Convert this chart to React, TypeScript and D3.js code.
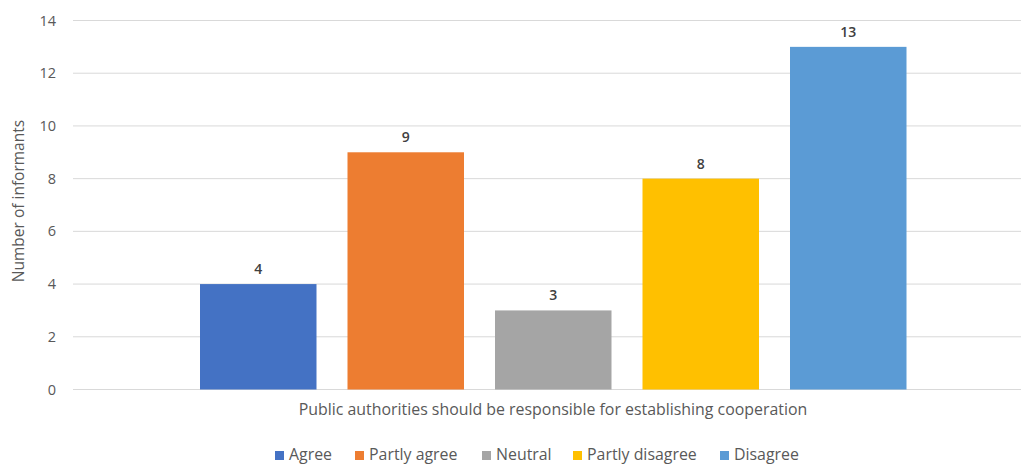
import React from "react";
import * as d3 from "d3";

const categories = ["Agree", "Partly agree", "Neutral", "Partly disagree", "Disagree"];
const values = [4, 9, 3, 8, 13];
const colors = ["#4472C4", "#ED7D31", "#A5A5A5", "#FFC000", "#5B9BD5"];
const yTicks = [0, 2, 4, 6, 8, 10, 12, 14];
const groupLabel = "Public authorities should be responsible for establishing cooperation";
const yTitle = "Number of informants";

const W = 1021;
const H = 465;
const FONT = "'Open Sans', sans-serif";

export default function App() {
  const plotLeft = 73;
  const plotRight = 1034;
  const y = d3.scaleLinear().domain([0, 14]).range([389.5, 20.5]);
  const step = 147.5;
  const bw = 116.5;
  const xs = d3.scaleLinear().domain([0, categories.length - 1]).range([200, 200 + step * 4]);

  const legendX = [275, 355, 482, 573, 720];

  return (
    <svg width={W} height={H} style={{ position: "absolute", left: 0, top: 0, background: "#fff" }}>
      {yTicks.map((t) => (
        <g key={t}>
          <line x1={plotLeft} x2={plotRight} y1={y(t)} y2={y(t)} stroke="#d9d9d9" strokeWidth={1} />
          <text x={56} y={y(t)} dy="0.35em" textAnchor="end" fontFamily={FONT} fontSize={14.5} fill="#595959">
            {t}
          </text>
        </g>
      ))}
      <text
        transform={`translate(24,${(y(0) + y(14)) / 2 - 4}) rotate(-90)`}
        textAnchor="middle"
        fontFamily={FONT}
        fontSize={15.5}
        fill="#595959"
      >
        {yTitle}
      </text>
      {categories.map((c, i) => (
        <g key={c}>
          <rect x={xs(i)} y={y(values[i])} width={bw} height={y(0) - y(values[i])} fill={colors[i]} />
          <text
            x={xs(i) + bw / 2}
            y={y(values[i]) - 10}
            textAnchor="middle"
            fontFamily={FONT}
            fontSize={14}
            fontWeight="600"
            fill="#404040"
          >
            {values[i]}
          </text>
        </g>
      ))}
      <text x={553} y={415} textAnchor="middle" fontFamily={FONT} fontSize={15.9} fill="#595959">
        {groupLabel}
      </text>
      {categories.map((c, i) => (
        <g key={"l" + c}>
          <rect x={legendX[i]} y={451} width={9} height={9} fill={colors[i]} />
          <text x={legendX[i] + 14} y={460} fontFamily={FONT} fontSize={15.9} fill="#595959">
            {c}
          </text>
        </g>
      ))}
    </svg>
  );
}
